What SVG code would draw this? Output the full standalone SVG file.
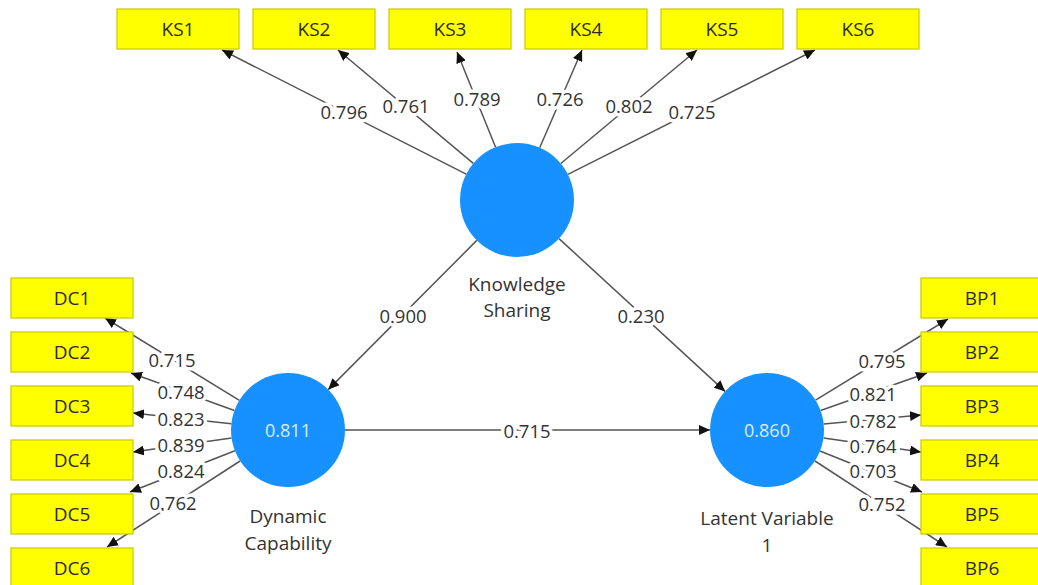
<svg xmlns="http://www.w3.org/2000/svg" width="1038" height="585" viewBox="0 0 1038 585">
<style>
.box{fill:#ffff00;stroke:#c9c900;stroke-width:1.2}
.bt{font-family:"Open Sans","Noto Sans",sans-serif;font-size:19px;fill:#2b2b2b;text-anchor:middle}
.lv{fill:#1691ff}
.ct{font-family:"Open Sans","Noto Sans",sans-serif;font-size:18px;fill:#dcecff;text-anchor:middle}
.nl{font-family:"Open Sans","Noto Sans",sans-serif;font-size:19px;fill:#333;text-anchor:middle}
.ln{stroke:#555;stroke-width:1.5;fill:none;marker-end:url(#ah)}
.lb{font-family:"Open Sans","Noto Sans",sans-serif;font-size:18.5px;fill:#333;text-anchor:middle;stroke:#fff;stroke-width:7;paint-order:stroke;stroke-linejoin:round}
</style>
<defs>
<marker id="ah" markerUnits="userSpaceOnUse" markerWidth="12" markerHeight="10" refX="11" refY="5" orient="auto">
<path d="M0,0 L11,5 L0,10 z" fill="#111"/>
</marker>
</defs>
<rect width="1038" height="585" fill="#fff"/>
<g id="connectors">
<line class="ln" x1="466.2" y1="174.2" x2="222" y2="50"/>
<line class="ln" x1="473.3" y1="163.4" x2="338" y2="50"/>
<line class="ln" x1="495.6" y1="147.2" x2="457" y2="52"/>
<line class="ln" x1="539.7" y1="147.7" x2="582" y2="50"/>
<line class="ln" x1="560.8" y1="163.5" x2="697" y2="50"/>
<line class="ln" x1="567.9" y1="174.4" x2="815" y2="50"/>
<line class="ln" x1="476.8" y1="240.4" x2="328.2" y2="389.6"/>
<line class="ln" x1="559" y1="238.6" x2="725.1" y2="391.4"/>
<line class="ln" x1="345" y1="430" x2="710" y2="430"/>
<line class="ln" x1="239.4" y1="400.3" x2="105" y2="318"/>
<line class="ln" x1="234.4" y1="410.5" x2="131" y2="373"/>
<line class="ln" x1="231.3" y1="423.8" x2="133" y2="413"/>
<line class="ln" x1="231.6" y1="438" x2="133" y2="452"/>
<line class="ln" x1="234.9" y1="450.8" x2="130" y2="492"/>
<line class="ln" x1="240.1" y1="461" x2="107" y2="547"/>
<line class="ln" x1="815.6" y1="400.2" x2="948" y2="319"/>
<line class="ln" x1="820.6" y1="410.5" x2="927" y2="373"/>
<line class="ln" x1="823.7" y1="424" x2="921" y2="415"/>
<line class="ln" x1="823.6" y1="438" x2="921" y2="452"/>
<line class="ln" x1="820" y1="451" x2="922" y2="492"/>
<line class="ln" x1="815" y1="461" x2="947" y2="547"/>
<text class="lb" x="344" y="119">0.796</text>
<text class="lb" x="406" y="113">0.761</text>
<text class="lb" x="477" y="106">0.789</text>
<text class="lb" x="560" y="106">0.726</text>
<text class="lb" x="629" y="113">0.802</text>
<text class="lb" x="692" y="119">0.725</text>
<text class="lb" x="403" y="323">0.900</text>
<text class="lb" x="641" y="323">0.230</text>
<text class="lb" x="527" y="438">0.715</text>
<text class="lb" x="172" y="367">0.715</text>
<text class="lb" x="181" y="399">0.748</text>
<text class="lb" x="181" y="426">0.823</text>
<text class="lb" x="181" y="452">0.839</text>
<text class="lb" x="181" y="478">0.824</text>
<text class="lb" x="173" y="510">0.762</text>
<text class="lb" x="882" y="368">0.795</text>
<text class="lb" x="873" y="401">0.821</text>
<text class="lb" x="873" y="428">0.782</text>
<text class="lb" x="873" y="453">0.764</text>
<text class="lb" x="873" y="478">0.703</text>
<text class="lb" x="882" y="511">0.752</text>
</g>
<g id="KS"><circle class="lv" cx="517" cy="200" r="57"/><text class="nl" x="517" y="291">Knowledge</text><text class="nl" x="517" y="317">Sharing</text></g>
<g id="DC"><circle class="lv" cx="288" cy="430" r="57"/><text class="ct" x="288" y="437">0.811</text><text class="nl" x="288" y="523">Dynamic</text><text class="nl" x="288" y="550">Capability</text></g>
<g id="LV1"><circle class="lv" cx="767" cy="430" r="57"/><text class="ct" x="767" y="437">0.860</text><text class="nl" x="767" y="525">Latent Variable</text><text class="nl" x="767" y="552">1</text></g>
<g id="KS1"><rect class="box" x="117" y="9" width="122" height="40"/><text class="bt" x="178" y="35.5">KS1</text></g>
<g id="KS2"><rect class="box" x="253" y="9" width="122" height="40"/><text class="bt" x="314" y="35.5">KS2</text></g>
<g id="KS3"><rect class="box" x="389" y="9" width="122" height="40"/><text class="bt" x="450" y="35.5">KS3</text></g>
<g id="KS4"><rect class="box" x="525" y="9" width="122" height="40"/><text class="bt" x="586" y="35.5">KS4</text></g>
<g id="KS5"><rect class="box" x="661" y="9" width="122" height="40"/><text class="bt" x="722" y="35.5">KS5</text></g>
<g id="KS6"><rect class="box" x="797" y="9" width="122" height="40"/><text class="bt" x="858" y="35.5">KS6</text></g>
<g id="DC1"><rect class="box" x="11" y="278" width="122" height="40"/><text class="bt" x="72" y="304.5">DC1</text></g>
<g id="DC2"><rect class="box" x="11" y="332" width="122" height="40"/><text class="bt" x="72" y="358.5">DC2</text></g>
<g id="DC3"><rect class="box" x="11" y="386" width="122" height="40"/><text class="bt" x="72" y="412.5">DC3</text></g>
<g id="DC4"><rect class="box" x="11" y="440" width="122" height="40"/><text class="bt" x="72" y="466.5">DC4</text></g>
<g id="DC5"><rect class="box" x="11" y="494" width="122" height="40"/><text class="bt" x="72" y="520.5">DC5</text></g>
<g id="DC6"><rect class="box" x="11" y="548" width="122" height="40"/><text class="bt" x="72" y="574.5">DC6</text></g>
<g id="BP1"><rect class="box" x="921" y="278" width="122" height="40"/><text class="bt" x="982" y="304.5">BP1</text></g>
<g id="BP2"><rect class="box" x="921" y="332" width="122" height="40"/><text class="bt" x="982" y="358.5">BP2</text></g>
<g id="BP3"><rect class="box" x="921" y="386" width="122" height="40"/><text class="bt" x="982" y="412.5">BP3</text></g>
<g id="BP4"><rect class="box" x="921" y="440" width="122" height="40"/><text class="bt" x="982" y="466.5">BP4</text></g>
<g id="BP5"><rect class="box" x="921" y="494" width="122" height="40"/><text class="bt" x="982" y="520.5">BP5</text></g>
<g id="BP6"><rect class="box" x="921" y="548" width="122" height="40"/><text class="bt" x="982" y="574.5">BP6</text></g>
</svg>
